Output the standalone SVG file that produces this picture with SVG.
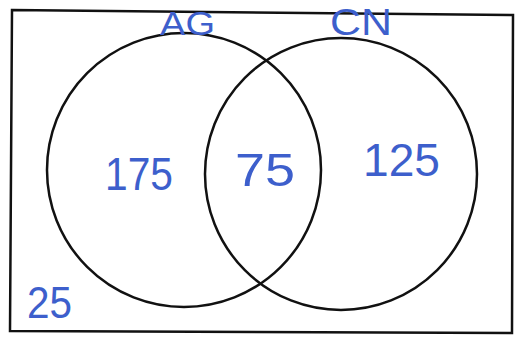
<svg xmlns="http://www.w3.org/2000/svg" width="520" height="337" viewBox="0 0 520 337">
<style>
.frame{fill:none;stroke:#111;stroke-width:2.5}
.set{fill:none;stroke:#111;stroke-width:2.5}
.lbl{fill:#3d5fcc;font-family:"Liberation Sans",Arial,sans-serif}
</style>
<rect width="520" height="337" fill="#fff"/>
<g id="universe">
<polygon class="frame" points="12,10 513,15 512,333 10,331"/>
<text class="lbl" x="27" y="318" font-size="44" textLength="45" lengthAdjust="spacingAndGlyphs">25</text>
</g>
<g id="set-AG">
<circle class="set" cx="184" cy="170" r="137"/>
<text class="lbl" x="160" y="35" font-size="34" textLength="55" lengthAdjust="spacingAndGlyphs">AG</text>
<text class="lbl" x="105" y="190" font-size="46" textLength="68" lengthAdjust="spacingAndGlyphs">175</text>
</g>
<g id="set-CN">
<circle class="set" cx="341" cy="174" r="136"/>
<text class="lbl" x="330" y="35" font-size="36" textLength="62" lengthAdjust="spacingAndGlyphs">CN</text>
<text class="lbl" x="363" y="176" font-size="46" textLength="77" lengthAdjust="spacingAndGlyphs">125</text>
</g>
<g id="intersection">
<text class="lbl" x="235" y="186" font-size="46" textLength="60" lengthAdjust="spacingAndGlyphs">75</text>
</g>
<g id="connectors"></g>
</svg>
